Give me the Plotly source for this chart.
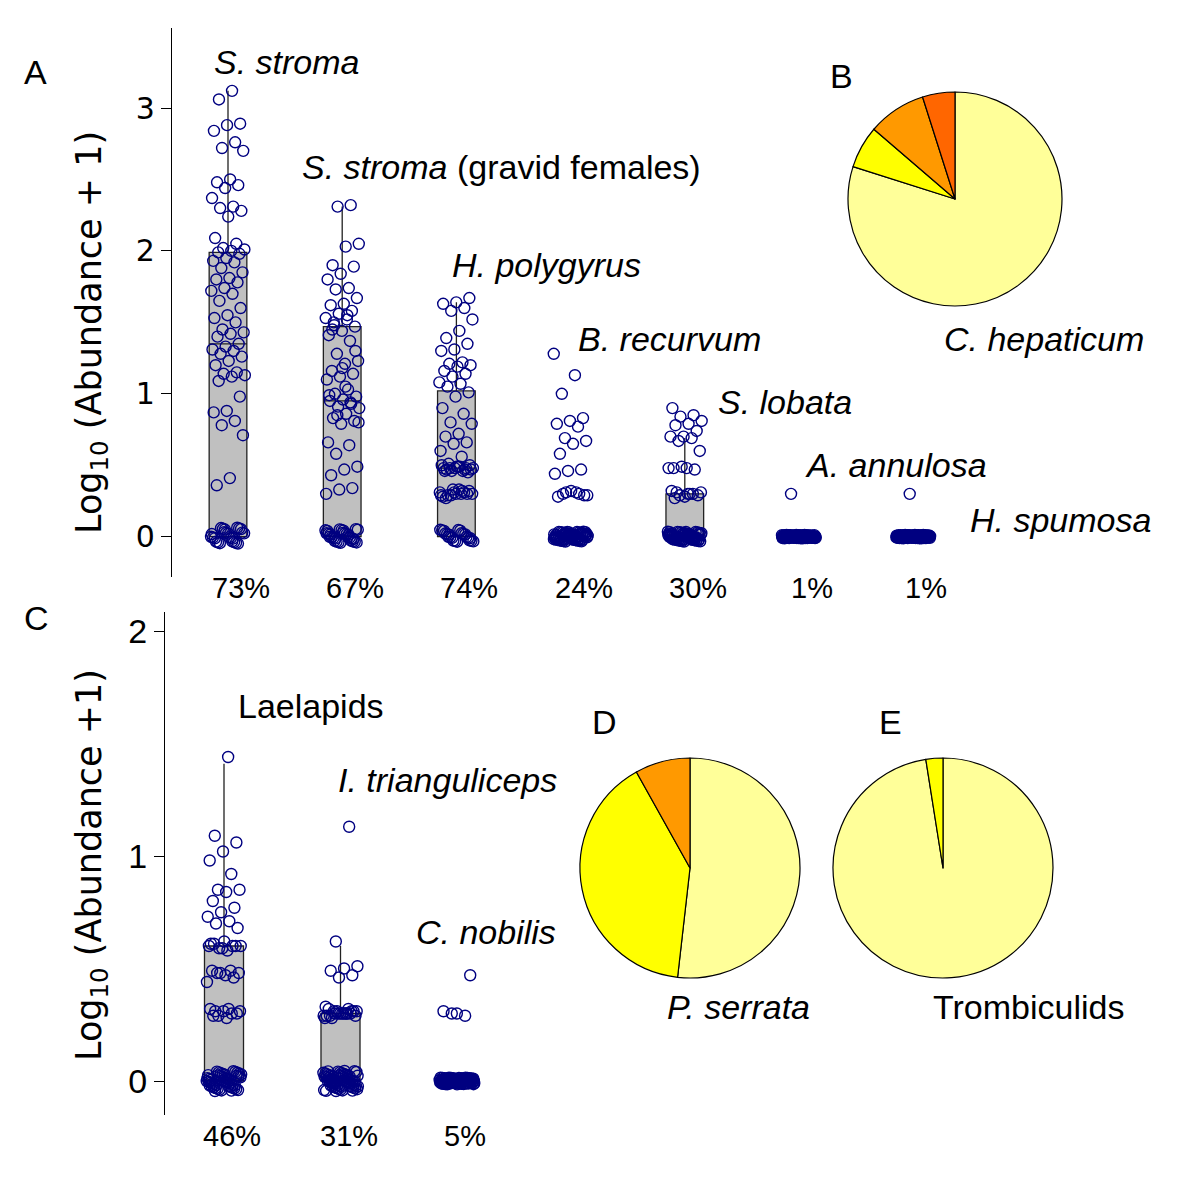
import plotly.graph_objects as go

W = H = 1200

# ---------------- DATA ----------------
# Panel A: helminths, log10(abundance + 1); nonzero values read off the chart + count of zeros
a_species = ["S. stroma", "S. stroma (gravid females)", "H. polygyrus", "B. recurvum",
             "S. lobata", "A. annulosa", "H. spumosa"]
a_prevalence = ["73%", "67%", "74%", "24%", "30%", "1%", "1%"]

s_stroma = [3.12, 3.06, 2.89, 2.88, 2.84, 2.76, 2.72, 2.70, 2.50, 2.48,
            2.46, 2.44, 2.37, 2.31, 2.30, 2.28, 2.24, 2.09, 2.05, 2.02,
            2.01, 2.00, 1.99, 1.98, 1.95, 1.93, 1.92, 1.88, 1.85, 1.81,
            1.80, 1.78, 1.74, 1.72, 1.70, 1.65, 1.60, 1.55, 1.53, 1.50,
            1.45, 1.43, 1.42, 1.40, 1.35, 1.33, 1.31, 1.30, 1.28, 1.26,
            1.23, 1.20, 1.15, 1.14, 1.13, 1.12, 1.09, 0.98, 0.88, 0.87,
            0.81, 0.78, 0.71, 0.41, 0.36] + [0.0] * 25
s_stroma_gravid = [2.32, 2.31, 2.05, 2.03, 1.90, 1.89, 1.84, 1.80, 1.74, 1.73,
                   1.67, 1.63, 1.62, 1.58, 1.56, 1.53, 1.52, 1.50, 1.47, 1.44,
                   1.41, 1.37, 1.28, 1.23, 1.21, 1.16, 1.14, 1.12, 1.10, 1.03,
                   1.00, 0.98, 0.96, 0.95, 0.93, 0.91, 0.90, 0.86, 0.83, 0.81,
                   0.79, 0.66, 0.64, 0.58, 0.49, 0.47, 0.43, 0.34, 0.33, 0.30,
                   1.55, 1.48, 1.30, 1.18, 0.99, 0.94, 0.85, 0.80, 1.05, 1.45] + [0.0] * 30
h_polygyrus = [1.67, 1.64, 1.63, 1.60, 1.58, 1.52, 1.44, 1.39, 1.35, 1.31,
               1.30, 1.22, 1.21, 1.20, 1.19, 1.16, 1.14, 1.12, 1.08, 1.07,
               1.05, 1.01, 0.98, 0.90, 0.86, 0.80, 0.79, 0.72, 0.70, 0.66,
               0.65, 0.60, 0.56, 0.51, 0.50,
               0.49, 0.48, 0.47, 0.46, 0.48, 0.49, 0.47, 0.45, 0.48, 0.50,
               0.46, 0.48, 0.47, 0.49, 0.46, 0.48,
               0.33, 0.31, 0.30, 0.29, 0.32, 0.30, 0.28, 0.31, 0.29, 0.30,
               0.33, 0.27, 0.30, 0.31, 0.29, 0.32] + [0.0] * 23
b_recurvum = [1.28, 1.13, 1.00, 0.83, 0.81, 0.79, 0.77, 0.69, 0.67, 0.65,
              0.58, 0.47, 0.46, 0.44, 0.31, 0.30, 0.29, 0.32, 0.28, 0.30,
              0.31, 0.29] + [0.0] * 68
s_lobata = [0.90, 0.85, 0.84, 0.81, 0.79, 0.78, 0.74, 0.70, 0.70, 0.69,
            0.67, 0.60, 0.48, 0.48, 0.47, 0.49, 0.48, 0.30, 0.31, 0.29,
            0.28, 0.32, 0.30, 0.29, 0.31, 0.30, 0.27] + [0.0] * 63
a_annulosa = [0.30] + [0.0] * 89
h_spumosa = [0.30] + [0.0] * 89
a_values = [s_stroma, s_stroma_gravid, h_polygyrus, b_recurvum, s_lobata, a_annulosa, h_spumosa]

# box statistics (q1, median, q3, upper whisker); None = no box drawn
a_q1 = [0.0, 0.0, 0.0, None, 0.0, None, None]
a_median = [1.35, 0.95, 0.48, None, 0.0, None, None]
a_q3 = [1.99, 1.47, 1.02, None, 0.30, None, None]
a_upper = [3.12, 2.31, 1.64, None, 0.69, None, None]

# Panel C: ectoparasites
c_species = ["Laelapids", "I. trianguliceps", "C. nobilis"]
c_prevalence = ["46%", "31%", "5%"]
laelapids = [1.44, 1.09, 1.06, 1.02, 0.98, 0.92, 0.85, 0.85, 0.84, 0.80,
             0.77, 0.75, 0.73, 0.71, 0.70, 0.68, 0.62, 0.61, 0.60, 0.59,
             0.60, 0.58, 0.61, 0.60, 0.59, 0.60, 0.49, 0.48, 0.48, 0.47,
             0.49, 0.46, 0.48, 0.44, 0.32, 0.31, 0.30, 0.31, 0.32, 0.30,
             0.29, 0.31, 0.28, 0.29] + [0.0] * 52
i_trianguliceps = [1.13, 0.62, 0.51, 0.50, 0.49, 0.47, 0.46, 0.33,
                   0.30, 0.31, 0.29, 0.30, 0.32, 0.30, 0.31, 0.29, 0.30, 0.28,
                   0.31, 0.30, 0.29, 0.32, 0.30, 0.31, 0.30, 0.29, 0.31, 0.30,
                   0.28, 0.30] + [0.0] * 66
c_nobilis = [0.47, 0.30, 0.31, 0.29, 0.30] + [0.0] * 91
c_values = [laelapids, i_trianguliceps, c_nobilis]
c_q1 = [0.0, 0.0, None]
c_median = [0.0, 0.0, None]
c_q3 = [0.60, 0.30, None]
c_upper = [1.41, 0.60, None]

# Pie charts (percent of hosts per infection class)
pie_labels_b = ["Class 0", "Class 1", "Class 2", "Class 3"]
pie_b = [79.9, 6.4, 8.8, 4.9]          # C. hepaticum
pie_labels_d = ["Class 0", "Class 1", "Class 2"]
pie_d = [51.8, 40.1, 8.1]              # P. serrata
pie_labels_e = ["Class 0", "Class 1"]
pie_e = [97.5, 2.5]                    # Trombiculids
pie_colors = ["#FFFF99", "#FFFF00", "#FF9900", "#FF6600"]

# ---------------- STYLE ----------------
NAVY = "#000080"
BOXFILL = "#C0C0C0"
ARIAL = "Liberation Sans, Arial, sans-serif"
VERDANA = "DejaVu Sans, Verdana, sans-serif"


def px_x(p):
    return p / W


def px_y(p):
    return 1 - p / H


fig = go.Figure()


def add_panel(values, q1, med, q3, upper, xa, ya, box_w, jit_x, jit_y_zero):
    # boxes first
    for i in range(len(values)):
        if q3[i] is None:
            continue
        fig.add_trace(go.Box(
            x=[i + 1], q1=[q1[i]], median=[med[i]], q3=[q3[i]],
            lowerfence=[q1[i]], upperfence=[upper[i]],
            width=box_w, whiskerwidth=0, boxpoints=False,
            fillcolor=BOXFILL, line=dict(color="#222222", width=1.3),
            xaxis=xa, yaxis=ya, showlegend=False, hoverinfo="skip"))
    # jittered points (deterministic display jitter)
    for i, vals in enumerate(values):
        xs, ys = [], []
        jy = jit_y_zero[i]
        for k, v in enumerate(vals):
            u = ((k + 1) * 0.6180339887 + 0.13 * i) % 1.0
            w = ((k + 1) * 0.7548776662 + 0.31) % 1.0
            xs.append(i + 1 + (u - 0.5) * 2 * jit_x)
            ys.append(v + ((w - 0.5) * 2 * jy if v == 0 else 0.0))
        fig.add_trace(go.Scatter(
            x=xs, y=ys, mode="markers", xaxis=xa, yaxis=ya, showlegend=False,
            marker=dict(symbol="circle-open", size=11, color=NAVY,
                        line=dict(width=1.4, color=NAVY)),
            hoverinfo="skip"))


add_panel(a_values, a_q1, a_median, a_q3, a_upper, "x", "y", 0.33, 0.15,
          [0.065, 0.055, 0.05, 0.035, 0.035, 0.012, 0.012])
add_panel(c_values, c_q1, c_median, c_q3, c_upper, "x2", "y2", 0.335, 0.15,
          [0.045, 0.045, 0.015])


# pies
def add_pie(vals, labels, x0, x1, y0, y1):
    fig.add_trace(go.Pie(
        values=vals, labels=labels, sort=False, direction="clockwise", rotation=0,
        marker=dict(colors=pie_colors[:len(vals)], line=dict(color="black", width=1.2)),
        textinfo="none", hoverinfo="label+percent", showlegend=False,
        domain=dict(x=[px_x(x0), px_x(x1)], y=[px_y(y1), px_y(y0)])))


add_pie(pie_b, pie_labels_b, 848, 1062, 92, 306)
add_pie(pie_d, pie_labels_d, 580, 800, 758, 978)
add_pie(pie_e, pie_labels_e, 833, 1053, 758, 978)

# axes
ax_unit = 114.2
a_left, a_x1 = 172, 228
c_unit = 116.5
c_left, c_x1 = 165, 224

fig.update_layout(
    width=W, height=H, margin=dict(l=0, r=0, t=0, b=0),
    paper_bgcolor="white", plot_bgcolor="rgba(0,0,0,0)",
    xaxis=dict(domain=[px_x(a_left), 1.0],
               range=[1 - (a_x1 - a_left) / ax_unit, 1 + (W - a_x1) / ax_unit],
               visible=False, anchor="y"),
    yaxis=dict(domain=[px_y(577), px_y(28)],
               range=[-(577 - 536.7) / 142.9, (536.7 - 28) / 142.9],
               anchor="x", showline=True, linecolor="black", linewidth=1.2,
               ticks="outside", ticklen=10, tickwidth=1.2, tickcolor="black",
               tickvals=[0, 1, 2, 3], showgrid=False, zeroline=False,
               tickfont=dict(family=VERDANA, size=30, color="black")),
    xaxis2=dict(domain=[px_x(c_left), 1.0],
                range=[1 - (c_x1 - c_left) / c_unit, 1 + (W - c_x1) / c_unit],
                visible=False, anchor="y2"),
    yaxis2=dict(domain=[px_y(1115), px_y(612)],
                range=[-(1115 - 1081) / 225.0, (1081 - 612) / 225.0],
                anchor="x2", showline=True, linecolor="black", linewidth=1.2,
                ticks="outside", ticklen=10, tickwidth=1.2, tickcolor="black",
                tickvals=[0, 1, 2], showgrid=False, zeroline=False,
                tickfont=dict(family=ARIAL, size=34, color="black")),
)

ann = []
# prevalence labels
for i, t in enumerate(a_prevalence):
    ann.append(dict(text=t, x=i + 1, y=px_y(588), xref="x", yref="paper", xshift=13,
                    showarrow=False, xanchor="center", yanchor="middle",
                    font=dict(family=ARIAL, size=29, color="black")))
for i, t in enumerate(c_prevalence):
    ann.append(dict(text=t, x=i + 1, y=px_y(1136), xref="x2", yref="paper", xshift=8,
                    showarrow=False, xanchor="center", yanchor="middle",
                    font=dict(family=ARIAL, size=29, color="black")))

# species labels (left x, centre y in px)
labels = [
    ("<i>" + a_species[0] + "</i>", 212, 62),
    ("<i>S. stroma</i> (gravid females)", 300, 167),
    ("<i>" + a_species[2] + "</i>", 450, 265),
    ("<i>" + a_species[3] + "</i>", 576, 339),
    ("<i>" + a_species[4] + "</i>", 716, 402),
    ("<i>" + a_species[5] + "</i>", 803, 465),
    ("<i>" + a_species[6] + "</i>", 968, 520),
    ("<i>C. hepaticum</i>", 942, 339),
    (c_species[0], 236, 706),
    ("<i>" + c_species[1] + "</i>", 336, 780),
    ("<i>" + c_species[2] + "</i>", 414, 932),
    ("<i>P. serrata</i>", 665, 1007),
    ("Trombiculids", 931, 1007),
]
for t, x, y in labels:
    ann.append(dict(text=t, x=px_x(x), y=px_y(y), xref="paper", yref="paper",
                    showarrow=False, xanchor="left", yanchor="middle",
                    font=dict(family=ARIAL, size=34, color="black")))

# panel letters
for t, x, y in [("A", 22, 72), ("B", 828, 76), ("C", 22, 618), ("D", 590, 722), ("E", 877, 722)]:
    ann.append(dict(text=t, x=px_x(x), y=px_y(y), xref="paper", yref="paper",
                    showarrow=False, xanchor="left", yanchor="middle",
                    font=dict(family=ARIAL, size=34, color="black")))

# y-axis titles
ann.append(dict(text="Log<sub>10</sub> (Abundance + 1)", x=px_x(91), y=px_y(333),
                xref="paper", yref="paper", showarrow=False, textangle=-90,
                xanchor="center", yanchor="middle",
                font=dict(family=VERDANA, size=35, color="black")))
ann.append(dict(text="Log<sub>10</sub> (Abundance +1)", x=px_x(91), y=px_y(865),
                xref="paper", yref="paper", showarrow=False, textangle=-90,
                xanchor="center", yanchor="middle",
                font=dict(family=VERDANA, size=35, color="black")))

fig.update_layout(annotations=ann)
fig.write_html("out.html", post_script="document.body.style.margin='0';",
               config={"displayModeBar": False})
